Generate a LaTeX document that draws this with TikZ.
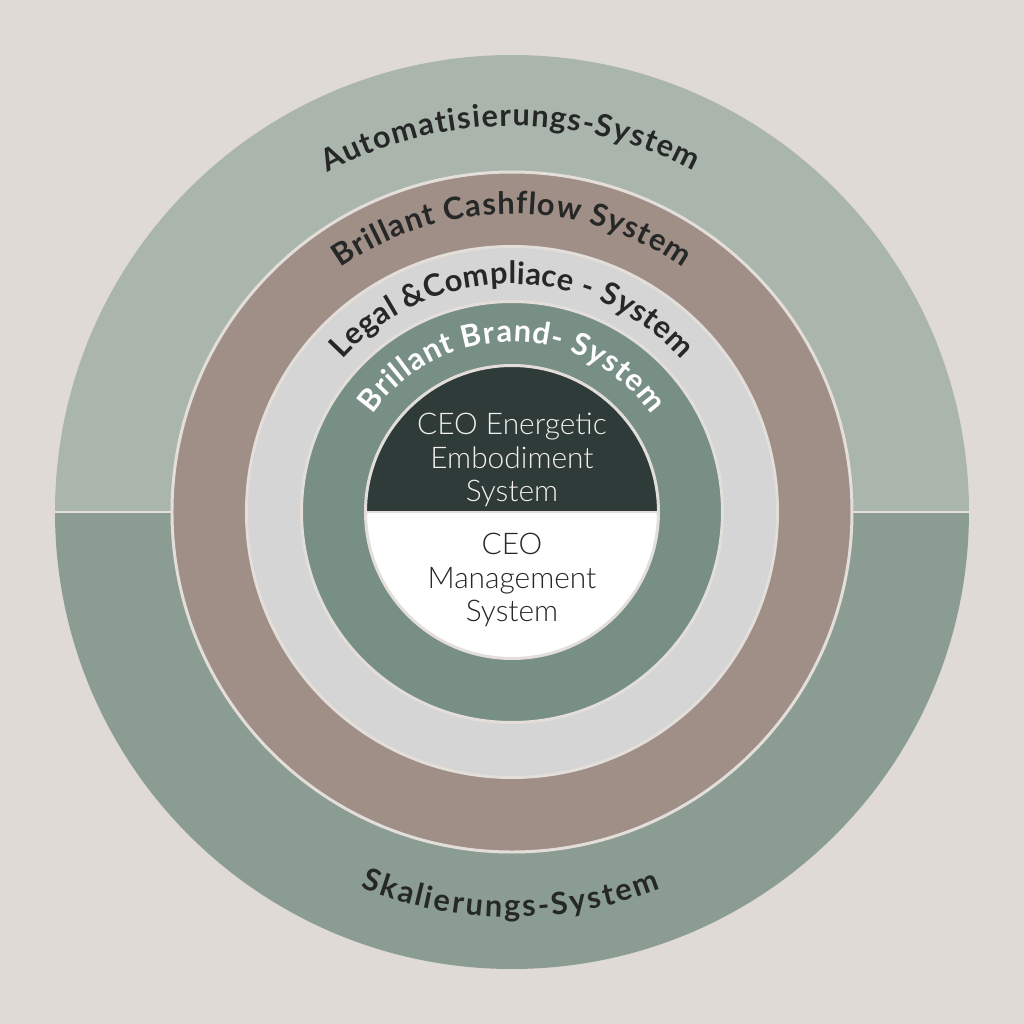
\documentclass[tikz,border=0pt]{standalone}
\usepackage{fontspec}
\setmainfont{Lato}
\IfFontExistsTF{Lato Light}{\newfontfamily\corefont{Lato Light}}{\newfontfamily\corefont{Lato}}
\usetikzlibrary{decorations.text}

\definecolor{backdrop}{HTML}{DFDAD6}
\definecolor{autotop}{HTML}{AAB5AC}
\definecolor{scalebottom}{HTML}{8B9D93}
\definecolor{cashbrown}{HTML}{A08F87}
\definecolor{legalgrey}{HTML}{D5D5D5}
\definecolor{brandgreen}{HTML}{788F86}
\definecolor{ceodark}{HTML}{2E3B38}
\definecolor{rim}{HTML}{E3DEDA}
\definecolor{inkdark}{HTML}{262828}
\definecolor{inklight}{HTML}{F2EFEC}

\newcommand\bandfont{\bfseries\fontsize{17.5}{20}\selectfont}

\tikzset{
  ring/.style={draw=rim, line width=1.7pt},
  bandtext/.style={decorate, decoration={text along path, text align=fit to path, text color=#1}},
  coretext/.style={align=center, font=\corefont\fontsize{17}{19}\selectfont, text=#1},
}

\begin{document}
\begin{tikzpicture}
				% Background and fixed frame
				\fill[backdrop] (-10.24,-10.24) rectangle (10.24,10.24);
				\useasboundingbox (-10.24,-10.24) rectangle (10.24,10.24);
				
				% Outer disc, split in two halves
				\fill[autotop] (9.14,0) arc[start angle=0, end angle=180, radius=9.14] -- cycle;
				\fill[scalebottom] (-9.14,0) arc[start angle=180, end angle=360, radius=9.14] -- cycle;
				\draw[rim, line width=1.7pt] (-9.14,0) -- (9.14,0);
				
				% Nested rings
				\draw[ring, fill=cashbrown] (0,0) circle (6.80);
				\draw[ring, fill=legalgrey] (0,0) circle (5.31);
				\draw[ring, fill=brandgreen] (0,0) circle (4.21);
				
				% Core disc
				\fill[ceodark] (2.93,0) arc[start angle=0, end angle=180, radius=2.93] -- cycle;
				\fill[white] (-2.93,0) arc[start angle=180, end angle=360, radius=2.93] -- cycle;
				\draw[rim, line width=0.6pt] (-2.93,0) -- (2.93,0);
				\draw[ring] (0,0) circle (2.93);
				
				% Curved ring labels
				\path[bandtext=inkdark, decoration={text={|\bandfont|Automatisierungs-System}}]
				(118.5:7.72) arc[start angle=118.5, end angle=62, radius=7.72];
				\path[bandtext=inkdark, decoration={text={|\bandfont|Brillant Cashflow System}}]
				(125:5.96) arc[start angle=125, end angle=55, radius=5.96];
				\path[bandtext=inkdark, decoration={text={|\bandfont|Legal {\&}Compliace - System}}]
				(138:4.56) arc[start angle=138, end angle=42, radius=4.56];
				\path[bandtext=white, decoration={text={|\bandfont|Brillant Brand- System}}]
				(145:3.40) arc[start angle=145, end angle=35, radius=3.40];
				\path[bandtext=inkdark, decoration={text={|\bandfont|Skalierungs-System}}]
				(248:8.10) arc[start angle=248, end angle=291.5, radius=8.10];
				
				% Core labels
				\node[coretext=inklight] (energetic) at (0,1.04) {CEO Energetic\\Embodiment\\System};
				\node[coretext=inkdark] (management) at (0,-1.36) {CEO\\Management\\System};
			\end{tikzpicture}
\end{document}
